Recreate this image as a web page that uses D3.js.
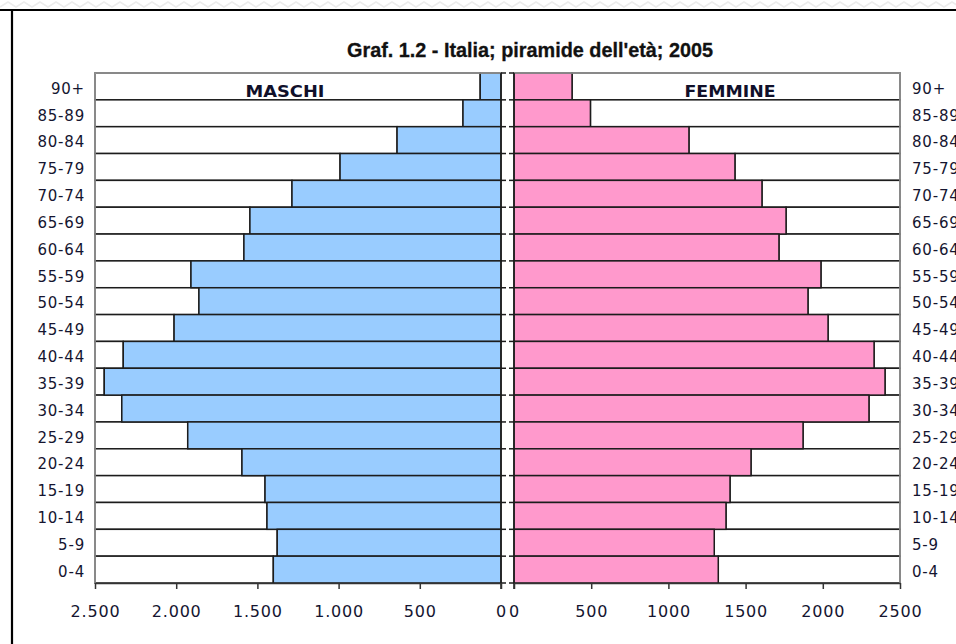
<!DOCTYPE html>
<html>
<head>
<meta charset="utf-8">
<script src="https://cdn.jsdelivr.net/npm/d3@7/dist/d3.min.js"></script>
<style>
  html, body { margin: 0; padding: 0; background: #fff; }
  svg { display: block; }
</style>
</head>
<body>
<svg id="chart" width="956" height="644"></svg>
<script>
// Age classes, oldest at the top
const ageClasses = ["90+", "85-89", "80-84", "75-79", "70-74", "65-69", "60-64", "55-59",
  "50-54", "45-49", "40-44", "35-39", "30-34", "25-29", "20-24", "15-19", "10-14", "5-9", "0-4"];

// Population in thousands
const maschi = [128, 234, 640, 991, 1287, 1546, 1583, 1909, 1860, 2013, 2326, 2443, 2335,
  1929, 1595, 1453, 1441, 1378, 1402];
const femmine = [376, 495, 1133, 1431, 1606, 1762, 1716, 1988, 1904, 2034, 2332, 2403, 2299,
  1872, 1535, 1399, 1373, 1297, 1323];

const axisMax = 2500;
const axisTicks = [0, 500, 1000, 1500, 2000, 2500];

const svg = d3.select("#chart");
const W = 956, H = 644;

// page frame: faint torn edge and black border lines
const zig = d3.range(0, W + 8, 8).map((x, i) => [x, i % 2 ? 2 : 7]);
svg.append("path")
  .attr("d", d3.line()(zig))
  .attr("fill", "none").attr("stroke", "#ececec").attr("stroke-width", 1.5);
svg.append("line").attr("x1", 0).attr("x2", W).attr("y1", 10).attr("y2", 10)
  .attr("stroke", "#000").attr("stroke-width", 2.2);
svg.append("line").attr("x1", 12).attr("x2", 12).attr("y1", 10).attr("y2", H)
  .attr("stroke", "#000").attr("stroke-width", 2.2);

// scales
const y = d3.scaleBand().domain(ageClasses).range([73, 583]).padding(0);
const xL = d3.scaleLinear().domain([0, axisMax]).range([501, 95]);
const xR = d3.scaleLinear().domain([0, axisMax]).range([514, 900]);

const barStroke = "#1c1c1c";
const itFormat = d3.formatLocale({ decimal: ",", thousands: ".", grouping: [3], currency: ["€", ""] }).format(",d");

// title
svg.append("text")
  .attr("x", 530).attr("y", 57)
  .attr("text-anchor", "middle")
  .attr("font-family", "'Liberation Sans Narrow', 'Liberation Sans', Arial, sans-serif")
  .attr("font-weight", "bold").attr("font-size", 20)
  .attr("textLength", 366).attr("lengthAdjust", "spacingAndGlyphs")
  .attr("fill", "#111")
  .attr("stroke", "#111").attr("stroke-width", 0.3)
  .text("Graf. 1.2 - Italia; piramide dell'età; 2005");

function panel(values, x, color, side) {
  const g = svg.append("g");
  const rows = ageClasses.map((c, i) => ({ c, v: values[i] }));
  // remainder up to the axis maximum
  g.selectAll("rect.rest").data(rows).join("rect")
    .attr("class", "rest")
    .attr("x", d => Math.min(x(d.v), x(axisMax)))
    .attr("width", d => Math.abs(x(axisMax) - x(d.v)))
    .attr("y", d => y(d.c)).attr("height", y.bandwidth())
    .attr("fill", "#fff").attr("stroke", barStroke).attr("stroke-width", 1.5);
  // value bars
  g.selectAll("rect.val").data(rows).join("rect")
    .attr("class", "val")
    .attr("x", d => Math.min(x(d.v), x(0)))
    .attr("width", d => Math.abs(x(d.v) - x(0)))
    .attr("y", d => y(d.c)).attr("height", y.bandwidth())
    .attr("fill", color).attr("stroke", barStroke).attr("stroke-width", 1.5);
  // plot area border
  const [a, b] = [x(0), x(axisMax)].sort((p, q) => p - q);
  const r = y.range();
  g.append("path")
    .attr("d", side === "left"
      ? `M${a},${r[1]}V${r[0]}H${b}`
      : `M${a},${r[0]}H${b}V${r[1]}`)
    .attr("fill", "none").attr("stroke", "#9a9a9a").attr("stroke-width", 1.5);

  // vertical category axis at zero with ticks on band boundaries
  const bounds = ageClasses.map(c => y(c)).concat([r[1]]);
  const x0 = x(0);
  const dir = side === "left" ? 1 : -1;
  g.append("line").attr("x1", x0).attr("x2", x0).attr("y1", r[0]).attr("y2", r[1] + 6)
    .attr("stroke", barStroke).attr("stroke-width", 1.5);
  g.selectAll("line.ct").data(bounds).join("line")
    .attr("class", "ct")
    .attr("x1", x0).attr("x2", x0 + dir * 5)
    .attr("y1", d => d).attr("y2", d => d)
    .attr("stroke", barStroke).attr("stroke-width", 1.5);

  // bottom value axis
  const ax = d3.axisBottom(x).tickValues(axisTicks).tickSize(6).tickSizeOuter(0)
    .tickFormat(side === "left" ? itFormat : d3.format("d"));
  const axG = g.append("g").attr("transform", `translate(0,${r[1]})`).call(ax);
  axG.select(".domain").attr("stroke", "#333").attr("stroke-width", 1.5);
  axG.selectAll(".tick line").attr("stroke", "#333").attr("stroke-width", 1.5);
  axG.selectAll(".tick text")
    .attr("y", 28).attr("dy", "0.35em")
    .attr("font-family", "'DejaVu Sans', Verdana, sans-serif")
    .attr("font-size", 16).attr("letter-spacing", 0.8)
    .attr("fill", "#151530");

  // category labels outside the panel
  g.selectAll("text.cat").data(ageClasses).join("text")
    .attr("class", "cat")
    .attr("x", side === "left" ? 85 : 912)
    .attr("y", d => y(d) + y.bandwidth() / 2 + 2)
    .attr("dy", "0.35em")
    .attr("text-anchor", side === "left" ? "end" : "start")
    .attr("font-family", "'DejaVu Sans', Verdana, sans-serif")
    .attr("font-size", 15).attr("letter-spacing", 0.8)
    .attr("fill", "#151530")
    .text(d => d);
}

panel(maschi, xL, "#99ccff", "left");
panel(femmine, xR, "#ff99cc", "right");

// series labels inside the top row
const topMid = y(ageClasses[0]) + y.bandwidth() / 2;
[["MASCHI", (xL(0) + xL(axisMax)) / 2 - 13, 79], ["FEMMINE", (xR(0) + xR(axisMax)) / 2 + 23, 91]]
  .forEach(([t, cx, len]) => {
    svg.append("text")
      .attr("x", cx).attr("y", topMid + 5)
      .attr("dy", "0.35em")
      .attr("text-anchor", "middle")
      .attr("font-family", "'DejaVu Sans', Verdana, sans-serif")
      .attr("font-weight", "bold").attr("font-size", 15.5)
      .attr("textLength", len).attr("lengthAdjust", "spacingAndGlyphs")
      .attr("fill", "#10102a")
      .text(t);
  });
</script>
</body>
</html>
